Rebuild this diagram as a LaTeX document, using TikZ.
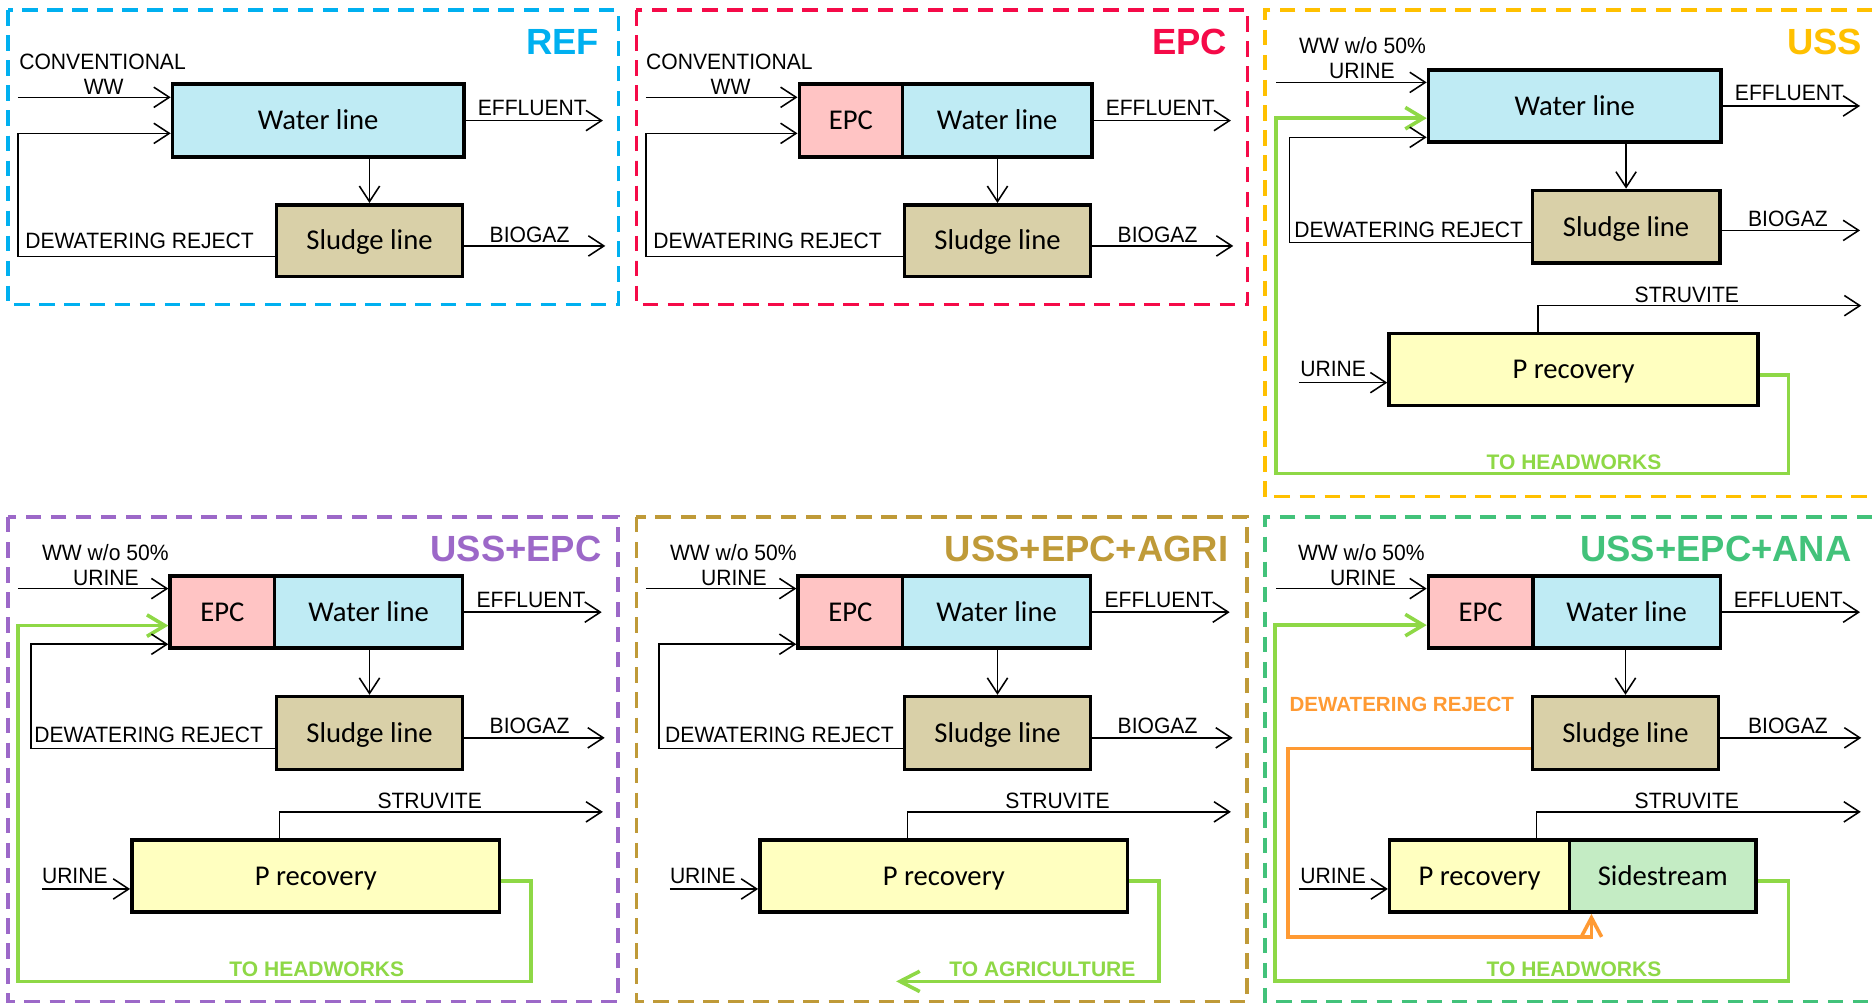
\documentclass[tikz,border=0pt]{standalone}
\usepackage{fontspec}
\setmainfont{Liberation Sans}
\newfontfamily\labfont[FakeStretch=0.95]{Liberation Sans}
\newfontfamily\boxfont{Carlito}
\usetikzlibrary{arrows.meta}
\definecolor{cref}{HTML}{00B0F0}
\definecolor{cepcT}{HTML}{F50A48}
\definecolor{cuss}{HTML}{FFC000}
\definecolor{cussepc}{HTML}{9C68C8}
\definecolor{cagri}{HTML}{BF9A38}
\definecolor{cana}{HTML}{42C27A}
\definecolor{lgreen}{HTML}{8ED846}
\definecolor{corange}{HTML}{FF9A33}
\definecolor{cwater}{HTML}{BFEBF4}
\definecolor{cepc}{HTML}{FFC4C4}
\definecolor{csludge}{HTML}{D9D0A8}
\definecolor{cprec}{HTML}{FFFFC0}
\definecolor{cside}{HTML}{C4ECC4}
\tikzset{
  panel/.style={line width=3pt, dash pattern=on 13pt off 8pt},
  box/.style={draw, line width=3pt, inner sep=0pt, text height=15.5pt, text depth=0pt, font=\boxfont\fontsize{24}{26}\selectfont},
  conn/.style={line width=1.3pt, -{Straight Barb[length=13pt,width=17pt,line width=1.3pt]}},
  plain/.style={line width=1.3pt},
  gconn/.style={draw=lgreen, line width=3pt, -{Straight Barb[length=15pt,width=18pt,line width=3pt]}},
  gline/.style={draw=lgreen, line width=3pt},
  oconn/.style={draw=corange, line width=3pt, -{Straight Barb[length=16pt,width=17pt,line width=3pt]}},
  lab/.style={font=\labfont\fontsize{18.6}{20}\selectfont, inner sep=0pt, anchor=base west},
  glab/.style={font=\bfseries\fontsize{17.6}{20}\selectfont, text=lgreen, inner sep=0pt, anchor=base west},
  olab/.style={font=\bfseries\fontsize{17.2}{20}\selectfont, text=corange, inner sep=0pt, anchor=base west},
  ttl/.style={font=\bfseries\fontsize{30.5}{32}\selectfont, inner sep=0pt, anchor=base east},
}
\begin{document}
\begin{tikzpicture}[x=1pt,y=-1pt]
\fill[white] (0,0) rectangle (1568,841);
\useasboundingbox (0,0) rectangle (1568,841);

% ================= Panel A : REF =================
\draw[panel, cref] (6.5,8.5) rectangle (518,255);
\node[ttl, text=cref] (ta) at (502,46) {REF};
\node[box, fill=cwater, minimum width=244pt, minimum height=61pt] (wa) at (266.5,101) {Water line};
\node[box, fill=csludge, minimum width=156pt, minimum height=60pt] (sa) at (309.5,201.5) {Sludge line};
\coordinate (ain) at (15,81.5);
\draw[conn] (ain) -- (ain -| wa.west);
\coordinate (adl) at (15,215); \coordinate (adu) at (15,111.7);
\draw[conn] (adl -| sa.west) -- (adl) -- (adu) -- (adu -| wa.west);
\draw[conn] (sa.north |- wa.south) -- (sa.north);
\coordinate (aeff) at (505,101); \draw[conn] (wa.east) -- (aeff);
\coordinate (abio) at (507,206); \draw[conn] (abio -| sa.east) -- (abio);
\node[lab] (la1) at (16,58) {CONVENTIONAL};
\node[lab] (la2) at (70,79) {WW};
\node[lab] (la3) at (21,208) {DEWATERING REJECT};
\node[lab] (la4) at (400,96.5) {EFFLUENT};
\node[lab] (la5) at (410,203) {BIOGAZ};

% ================= Panel B : EPC =================
\draw[panel, cepcT] (533,8.5) rectangle (1045,255);
\node[ttl, text=cepcT] (tb) at (1028,46) {EPC};
\node[box, fill=cepc, minimum width=86.5pt, minimum height=61pt] (eb) at (712.75,101) {EPC};
\node[box, fill=cwater, minimum width=158.5pt, minimum height=61pt] (wb) at (835.25,101) {Water line};
\node[box, fill=csludge, minimum width=156pt, minimum height=60pt] (sb) at (835.5,201.5) {Sludge line};
\coordinate (bin) at (541,81.5);
\draw[conn] (bin) -- (bin -| eb.west);
\coordinate (bdl) at (541,215); \coordinate (bdu) at (541,111.7);
\draw[conn] (bdl -| sb.west) -- (bdl) -- (bdu) -- (bdu -| eb.west);
\draw[conn] (sb.north |- wb.south) -- (sb.north);
\coordinate (beff) at (1031,101); \draw[conn] (wb.east) -- (beff);
\coordinate (bbio) at (1033,206); \draw[conn] (bbio -| sb.east) -- (bbio);
\node[lab] (lb1) at (541,58) {CONVENTIONAL};
\node[lab] (lb2) at (595,79) {WW};
\node[lab] (lb3) at (547,208) {DEWATERING REJECT};
\node[lab] (lb4) at (926,96.5) {EFFLUENT};
\node[lab] (lb5) at (936,203) {BIOGAZ};

% ================= Panel C : USS =================
\draw[panel, cuss] (1568,8.5) -- (1059.5,8.5) -- (1059.5,416) -- (1568,416);
\node[ttl, text=cuss] (tc) at (1560,45.5) {USS};
\node[box, fill=cwater, minimum width=245pt, minimum height=60.5pt] (wc) at (1319,88.75) {Water line};
\node[box, fill=csludge, minimum width=157pt, minimum height=61pt] (sc) at (1362,190) {Sludge line};
\node[box, fill=cprec, minimum width=309pt, minimum height=60pt] (pc) at (1318,309.5) {P recovery};
\coordinate (cin) at (1069,69);
\draw[conn] (cin) -- (cin -| wc.west);
\coordinate (cg1) at (1498,314); \coordinate (cg2) at (1498,396.5);
\coordinate (cg3) at (1069,396.5); \coordinate (cg4) at (1069,99);
\draw[gconn] (cg1 -| pc.east) -- (cg1) -- (cg2) -- (cg3) -- (cg4) -- (cg4 -| wc.west);
\coordinate (cdl) at (1080,203); \coordinate (cdu) at (1080,115);
\draw[conn] (cdl -| sc.west) -- (cdl) -- (cdu) -- (cdu -| wc.west);
\draw[conn] (sc.north |- wc.south) -- (sc.north);
\coordinate (ceff) at (1558,88.75); \draw[conn] (wc.east) -- (ceff);
\coordinate (cbio) at (1558,193); \draw[conn] (cbio -| sc.east) -- (cbio);
\coordinate (cst) at (1288,256); \coordinate (cste) at (1559,256);
\draw[conn] (cst |- pc.north) -- (cst) -- (cste);
\coordinate (cur) at (1088,320.5);
\draw[conn] (cur) -- (cur -| pc.west);
\node[lab] (lc1) at (1088,45) {WW w/o 50\%};
\node[lab] (lc2) at (1113,66) {URINE};
\node[lab] (lc3) at (1084,199) {DEWATERING REJECT};
\node[lab] (lc4) at (1453,84) {EFFLUENT};
\node[lab] (lc5) at (1464,190) {BIOGAZ};
\node[lab] (lc6) at (1369,253) {STRUVITE};
\node[lab] (lc7) at (1089,315.5) {URINE};
\node[glab] (lc8) at (1245,393) {TO HEADWORKS};

% ================= Panel D : USS+EPC =================
\draw[panel, cussepc] (6.5,433) rectangle (517.5,839);
\node[ttl, text=cussepc] (td) at (504,470.6) {USS+EPC};
\node[box, fill=cepc, minimum width=87.5pt, minimum height=60.5pt] (ed) at (186.25,512.75) {EPC};
\node[box, fill=cwater, minimum width=157.5pt, minimum height=60.5pt] (wd) at (308.75,512.75) {Water line};
\node[box, fill=csludge, minimum width=156pt, minimum height=61pt] (sd) at (309.5,614) {Sludge line};
\node[box, fill=cprec, minimum width=308pt, minimum height=60.5pt] (pd) at (264.5,733.75) {P recovery};
\coordinate (din) at (15,493);
\draw[conn] (din) -- (din -| ed.west);
\coordinate (dg1) at (445,738); \coordinate (dg2) at (445,822);
\coordinate (dg3) at (15,822); \coordinate (dg4) at (15,524);
\draw[gconn] (dg1 -| pd.east) -- (dg1) -- (dg2) -- (dg3) -- (dg4) -- (dg4 -| ed.west);
\coordinate (ddl) at (26,627); \coordinate (ddu) at (26,539.6);
\draw[conn] (ddl -| sd.west) -- (ddl) -- (ddu) -- (ddu -| ed.west);
\draw[conn] (sd.north |- wd.south) -- (sd.north);
\coordinate (deff) at (504,512.75); \draw[conn] (wd.east) -- (deff);
\coordinate (dbio) at (506.5,618); \draw[conn] (dbio -| sd.east) -- (dbio);
\coordinate (dst) at (234,680); \coordinate (dste) at (505,680);
\draw[conn] (dst |- pd.north) -- (dst) -- (dste);
\coordinate (dur) at (35,744.6);
\draw[conn] (dur) -- (dur -| pd.west);
\node[lab] (ld1) at (35,469.5) {WW w/o 50\%};
\node[lab] (ld2) at (61,490) {URINE};
\node[lab] (ld3) at (28.6,621.5) {DEWATERING REJECT};
\node[lab] (ld4) at (399,508.6) {EFFLUENT};
\node[lab] (ld5) at (410,614) {BIOGAZ};
\node[lab] (ld6) at (316,677) {STRUVITE};
\node[lab] (ld7) at (35,740) {URINE};
\node[glab] (ld8) at (192,818) {TO HEADWORKS};

% ================= Panel E : USS+EPC+AGRI =================
\draw[panel, cagri] (533,433) rectangle (1044.5,839);
\node[ttl, text=cagri] (te) at (1029,470.6) {USS+EPC+AGRI};
\node[box, fill=cepc, minimum width=87.5pt, minimum height=60.5pt] (ee) at (712.25,512.75) {EPC};
\node[box, fill=cwater, minimum width=157.5pt, minimum height=60.5pt] (we) at (834.75,512.75) {Water line};
\node[box, fill=csludge, minimum width=156pt, minimum height=61pt] (se) at (835.5,614) {Sludge line};
\node[box, fill=cprec, minimum width=308pt, minimum height=60.5pt] (pe) at (790.5,733.75) {P recovery};
\coordinate (ein) at (541,493);
\draw[conn] (ein) -- (ein -| ee.west);
\coordinate (eg1) at (971,738); \coordinate (eg2) at (971,822);
\coordinate (eg3) at (750.6,822);
\draw[draw=lgreen, line width=3pt, -{Straight Barb[length=16.5pt,width=17pt,line width=3pt]}] (eg1 -| pe.east) -- (eg1) -- (eg2) -- (eg3);
\coordinate (edl) at (552,627); \coordinate (edu) at (552,539.6);
\draw[conn] (edl -| se.west) -- (edl) -- (edu) -- (edu -| ee.west);
\draw[conn] (se.north |- we.south) -- (se.north);
\coordinate (eeff) at (1030,512.75); \draw[conn] (we.east) -- (eeff);
\coordinate (ebio) at (1032.5,618); \draw[conn] (ebio -| se.east) -- (ebio);
\coordinate (est) at (760,680); \coordinate (este) at (1031,680);
\draw[conn] (est |- pe.north) -- (est) -- (este);
\coordinate (eur) at (561,744.6);
\draw[conn] (eur) -- (eur -| pe.west);
\node[lab] (le1) at (561,469.5) {WW w/o 50\%};
\node[lab] (le2) at (587,490) {URINE};
\node[lab] (le3) at (557,621.5) {DEWATERING REJECT};
\node[lab] (le4) at (925,508.6) {EFFLUENT};
\node[lab] (le5) at (936,614) {BIOGAZ};
\node[lab] (le6) at (842,677) {STRUVITE};
\node[lab] (le7) at (561,740) {URINE};
\node[glab] (le8) at (795,818) {TO AGRICULTURE};

% ================= Panel F : USS+EPC+ANA =================
\draw[panel, cana] (1568,433) -- (1059.5,433) -- (1059.5,839) -- (1568,839);
\node[ttl, text=cana] (tf) at (1551,470.6) {USS+EPC+ANA};
\node[box, fill=cepc, minimum width=87.5pt, minimum height=60.5pt] (ef) at (1240.25,512.75) {EPC};
\node[box, fill=cwater, minimum width=157pt, minimum height=60.5pt] (wf) at (1362.5,512.75) {Water line};
\node[box, fill=csludge, minimum width=156pt, minimum height=61pt] (sf) at (1361.5,614) {Sludge line};
\node[box, fill=cprec, minimum width=150.5pt, minimum height=60.5pt] (pf) at (1239.25,733.75) {P recovery};
\node[box, fill=cside, minimum width=156.5pt, minimum height=60.5pt] (ssf) at (1392.75,733.75) {Sidestream};
\coordinate (fin) at (1069,493);
\draw[conn] (fin) -- (fin -| ef.west);
\coordinate (fg1) at (1498,738); \coordinate (fg2) at (1498,821.6);
\coordinate (fg3) at (1068,821.6); \coordinate (fg4) at (1068,523.6);
\draw[gconn] (fg1 -| ssf.east) -- (fg1) -- (fg2) -- (fg3) -- (fg4) -- (fg4 -| ef.west);
\coordinate (fo1) at (1079,627); \coordinate (fo2) at (1079,784.7);
\coordinate (fo3) at (1333,784.7);
\draw[oconn] (fo1 -| sf.west) -- (fo1) -- (fo2) -- (fo3) -- (fo3 |- ssf.south);
\draw[conn] (sf.north |- wf.south) -- (sf.north);
\coordinate (feff) at (1558,512.75); \draw[conn] (wf.east) -- (feff);
\coordinate (fbio) at (1559,618); \draw[conn] (fbio -| sf.east) -- (fbio);
\coordinate (fst) at (1287,680); \coordinate (fste) at (1558.6,680);
\draw[conn] (fst |- pf.north) -- (fst) -- (fste);
\coordinate (fur) at (1088,744.6);
\draw[conn] (fur) -- (fur -| pf.west);
\node[lab] (lf1) at (1087,469.5) {WW w/o 50\%};
\node[lab] (lf2) at (1114,490) {URINE};
\node[olab] (lf3) at (1080,596) {DEWATERING REJECT};
\node[lab] (lf4) at (1452,508.6) {EFFLUENT};
\node[lab] (lf5) at (1464,614) {BIOGAZ};
\node[lab] (lf6) at (1369,677) {STRUVITE};
\node[lab] (lf7) at (1089,740) {URINE};
\node[glab] (lf8) at (1245,818) {TO HEADWORKS};
\end{tikzpicture}
\end{document}
